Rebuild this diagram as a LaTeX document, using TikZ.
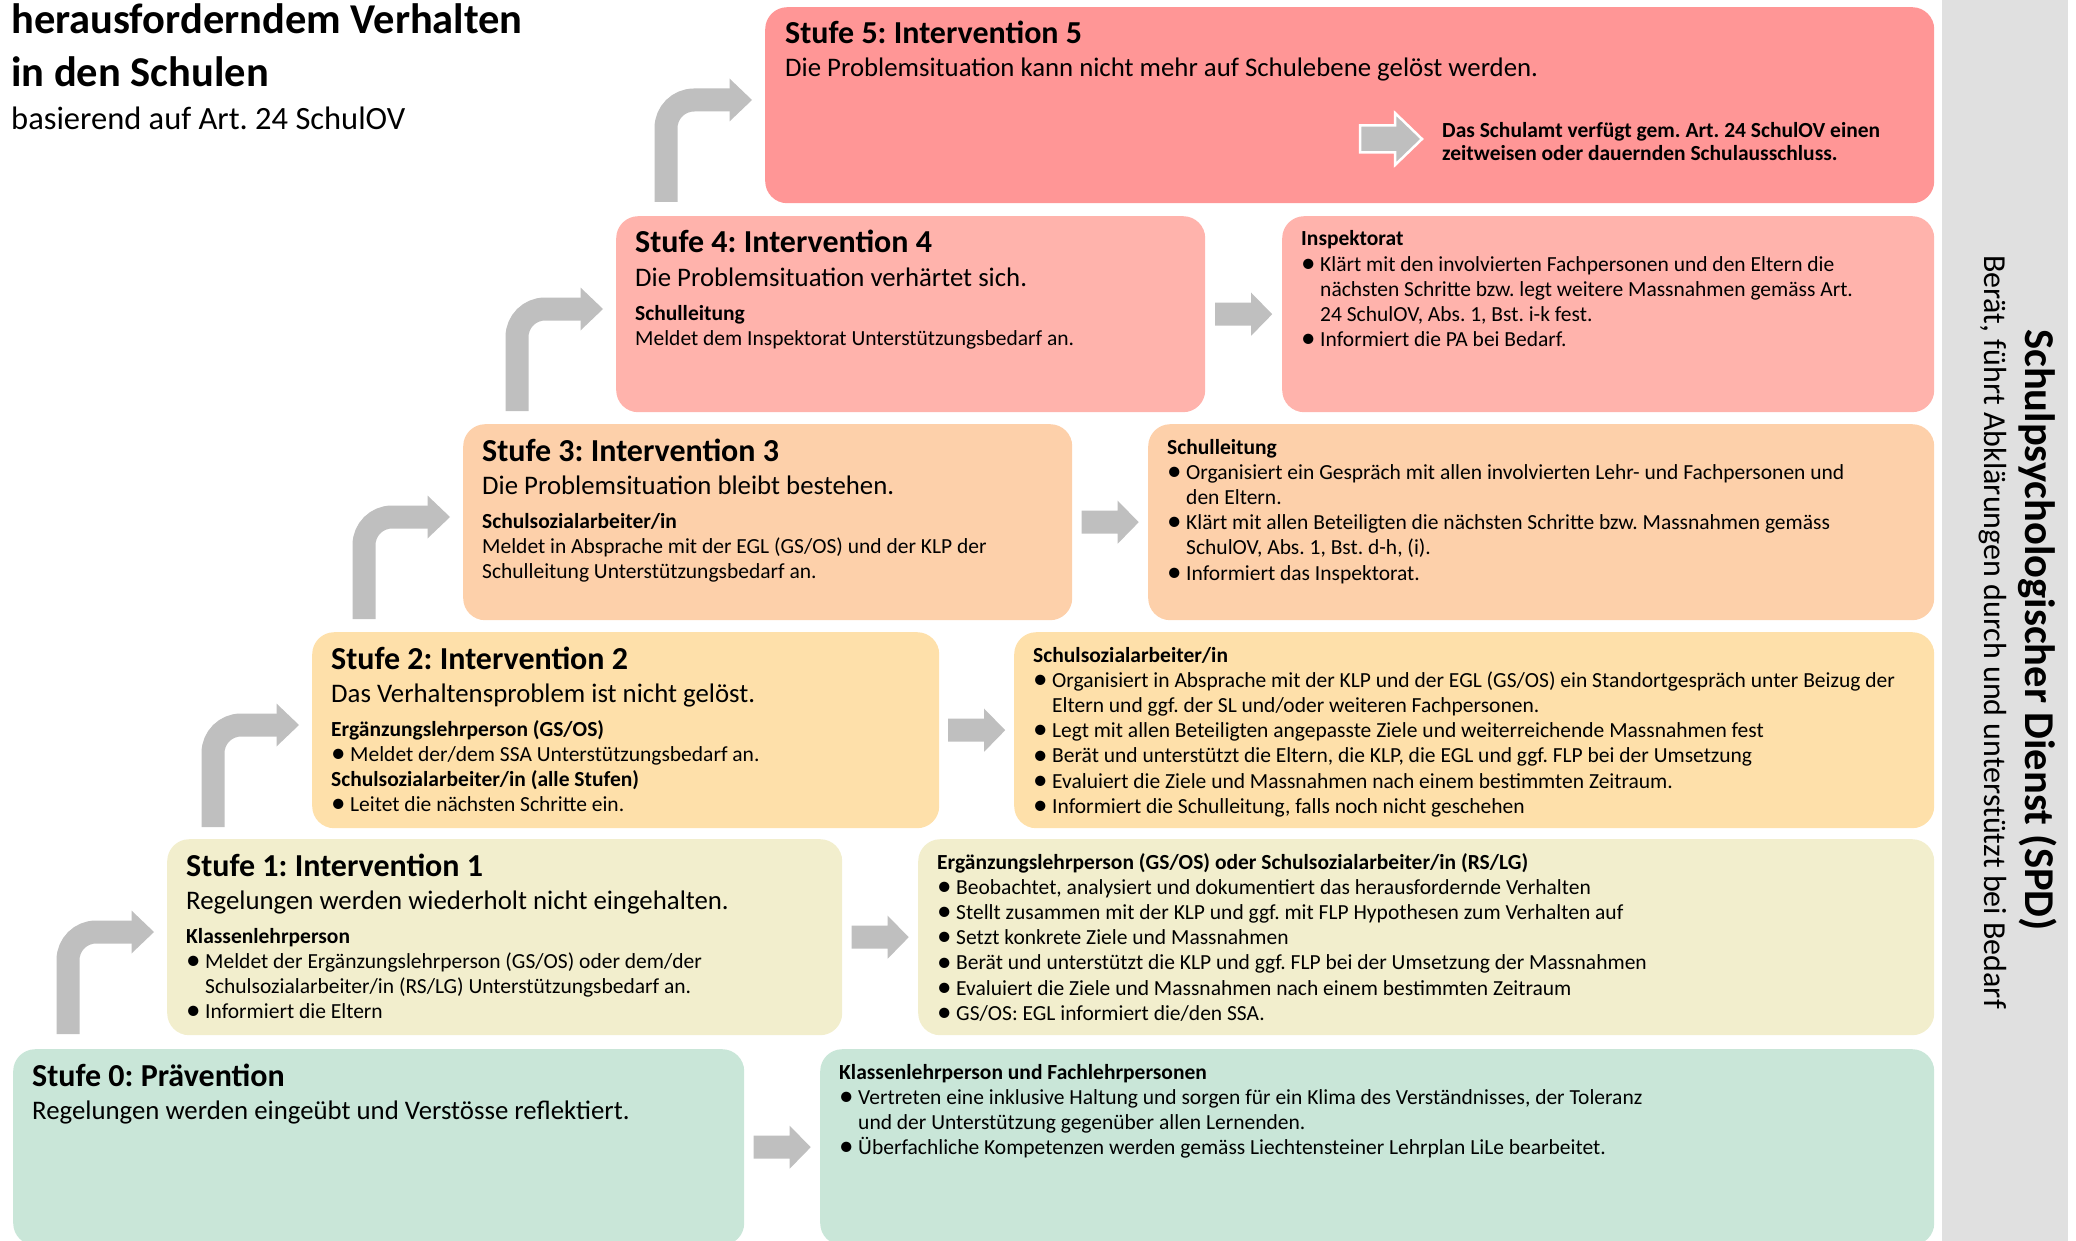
\documentclass[tikz,border=0pt]{standalone}
\usepackage{fontspec}
\setmainfont{Carlito}
\usetikzlibrary{calc}
\frenchspacing
\definecolor{cfive}{HTML}{FF9696}
\definecolor{cfour}{HTML}{FFB3AC}
\definecolor{cthree}{HTML}{FDD0AA}
\definecolor{ctwo}{HTML}{FEE0AA}
\definecolor{cone}{HTML}{F2EECD}
\definecolor{czero}{HTML}{C9E6D8}
\definecolor{barcol}{HTML}{E0E0E0}
\definecolor{arrowgray}{HTML}{BFBFBF}
\newcommand\bl{\makebox[19pt][l]{\raisebox{-1.2pt}{\scalebox{1.35}{\textbullet}}}}
\newcommand\ind{\hspace*{19pt}}
\newcommand\bentarrow[2]{%
  \coordinate (#1t) at ($(#2.north west)+(-99,195)$);
  \coordinate (#1h) at ($(#2.north west)+(-35,93)$);
  \draw[bentline] (#1t) |- (#1h);
  \fill[arrowgray] ($(#1h)+(-0.5,-21.5)$) -- ($(#1h)+(22,0)$) -- ($(#1h)+(-0.5,21.5)$) -- cycle;
}
\newcommand\blockarrow[3]{%
  \coordinate (#1) at ($(#2.east)!0.5!(#3.west)$);
  \fill[arrowgray, shift={(#1)}] (-28.5,-11.5) -- (7.5,-11.5) -- (7.5,-21.5) -- (28.5,0) -- (7.5,21.5) -- (7.5,11.5) -- (-28.5,11.5) -- cycle;
}
\begin{document}
\begin{tikzpicture}[x=1pt,y=-1pt,
  box/.style={rounded corners=22pt, inner sep=0pt, anchor=north west, minimum height=196pt},
  bentline/.style={draw=arrowgray, line width=23pt, rounded corners=28pt},
  txt/.style={anchor=base west, inner sep=0pt},
  hd/.style={txt, font=\bfseries\fontsize{32}{38}\selectfont},
  sub/.style={txt, font=\fontsize{26.8}{32}\selectfont},
  sm/.style={txt, font=\fontsize{21.5}{25.2}\selectfont},
  smb/.style={txt, font=\bfseries\fontsize{21.5}{23}\selectfont}]
\useasboundingbox (0,0) rectangle (2076,1241);
\clip (0,0) rectangle (2076,1241);

% side bar
\node[fill=barcol, anchor=north west, inner sep=0pt, minimum width=126pt, minimum height=1243pt] (spd) at (1942,-1) {};
\node[rotate=-90, font=\bfseries\fontsize{42.5}{50}\selectfont] (spdt) at (2038,630) {Schulpsychologischer Dienst (SPD)};
\node[rotate=-90, font=\fontsize{32}{38}\selectfont] (spds) at (1993,632) {Berät, führt Abklärungen durch und unterstützt bei Bedarf};

% title
\node[txt, font=\bfseries\fontsize{42.5}{53}\selectfont] (title) at (11,34) {\begin{tabular}[t]{@{}l@{}}herausforderndem Verhalten\\in den Schulen\end{tabular}};
\node[txt, font=\fontsize{32.5}{38}\selectfont] (subt) at (11,130) {basierend auf Art. 24 SchulOV};

% boxes
\node[box, fill=cfive, minimum width=1169pt] (s5) at (765,7) {};
\node[box, fill=cfour, minimum width=589pt] (s4l) at (616,216) {};
\node[box, fill=cfour, minimum width=652pt] (s4r) at (1282,216) {};
\node[box, fill=cthree, minimum width=609pt] (s3l) at (463,424) {};
\node[box, fill=cthree, minimum width=786pt] (s3r) at (1148,424) {};
\node[box, fill=ctwo, minimum width=627pt] (s2l) at (312,632) {};
\node[box, fill=ctwo, minimum width=920pt] (s2r) at (1014,632) {};
\node[box, fill=cone, minimum width=675pt] (s1l) at (167,839) {};
\node[box, fill=cone, minimum width=1016pt] (s1r) at (918,839) {};
\node[box, fill=czero, minimum width=731pt] (s0l) at (13,1049) {};
\node[box, fill=czero, minimum width=1114pt] (s0r) at (820,1049) {};

% bent arrows
\bentarrow{aone}{s1l}
\bentarrow{atwo}{s2l}
\bentarrow{athree}{s3l}
\bentarrow{afour}{s4l}
\bentarrow{afive}{s5}

% block arrows
\blockarrow{bfour}{s4l}{s4r}
\blockarrow{bthree}{s3l}{s3r}
\blockarrow{btwo}{s2l}{s2r}
\blockarrow{bone}{s1l}{s1r}
\blockarrow{bzero}{s0l}{s0r}

% Stufe 5
\node[hd] (t5h) at ($(s5.north west)+(20,37)$) {Stufe 5: Intervention 5};
\node[sub] (t5s) at ($(s5.north west)+(20,70)$) {Die Problemsituation kann nicht mehr auf Schulebene gelöst werden.};
\node[smb] (t5r) at (1442,138) {\begin{tabular}[t]{@{}l@{}}Das Schulamt verfügt gem. Art. 24 SchulOV einen\\zeitweisen oder dauernden Schulausschluss.\end{tabular}};
\coordinate (bfive) at ($(t5r.base west)+(-51,1)$);
\filldraw[fill=arrowgray, draw=white, line width=2.5pt, shift={(bfive)}] (-31,-13.5) -- (4,-13.5) -- (4,-26) -- (31,0) -- (4,26) -- (4,13.5) -- (-31,13.5) -- cycle;

% Stufe 4
\node[hd] (t4h) at ($(s4l.north west)+(19,37)$) {Stufe 4: Intervention 4};
\node[sub] (t4s) at ($(s4l.north west)+(19,70)$) {Die Problemsituation verhärtet sich.};
\node[sm] (t4b) at ($(s4l.north west)+(19,104)$) {\begin{tabular}[t]{@{}l@{}}\textbf{Schulleitung}\\Meldet dem Inspektorat Unterstützungsbedarf an.\end{tabular}};
\node[sm] (t4r) at ($(s4r.north west)+(19,30)$) {\begin{tabular}[t]{@{}l@{}}\textbf{Inspektorat}\\
\bl Klärt mit den involvierten Fachpersonen und den Eltern die\\
\ind nächsten Schritte bzw. legt weitere Massnahmen gemäss Art.\\
\ind 24 SchulOV, Abs. 1, Bst. i-k fest.\\
\bl Informiert die PA bei Bedarf.\end{tabular}};

% Stufe 3
\node[hd] (t3h) at ($(s3l.north west)+(19,37)$) {Stufe 3: Intervention 3};
\node[sub] (t3s) at ($(s3l.north west)+(19,70)$) {Die Problemsituation bleibt bestehen.};
\node[sm] (t3b) at ($(s3l.north west)+(19,104)$) {\begin{tabular}[t]{@{}l@{}}\textbf{Schulsozialarbeiter/in}\\Meldet in Absprache mit der EGL (GS/OS) und der KLP der\\Schulleitung Unterstützungsbedarf an.\end{tabular}};
\node[sm] (t3r) at ($(s3r.north west)+(19,30)$) {\begin{tabular}[t]{@{}l@{}}\textbf{Schulleitung}\\
\bl Organisiert ein Gespräch mit allen involvierten Lehr- und Fachpersonen und\\
\ind den Eltern.\\
\bl Klärt mit allen Beteiligten die nächsten Schritte bzw. Massnahmen gemäss\\
\ind SchulOV, Abs. 1, Bst. d-h, (i).\\
\bl Informiert das Inspektorat.\end{tabular}};

% Stufe 2
\node[hd] (t2h) at ($(s2l.north west)+(19,37)$) {Stufe 2: Intervention 2};
\node[sub] (t2s) at ($(s2l.north west)+(19,70)$) {Das Verhaltensproblem ist nicht gelöst.};
\node[sm] (t2b) at ($(s2l.north west)+(19,104)$) {\begin{tabular}[t]{@{}l@{}}\textbf{Ergänzungslehrperson (GS/OS)}\\
\bl Meldet der/dem SSA Unterstützungsbedarf an.\\
\textbf{Schulsozialarbeiter/in (alle Stufen)}\\
\bl Leitet die nächsten Schritte ein.\end{tabular}};
\node[sm] (t2r) at ($(s2r.north west)+(19,30)$) {\begin{tabular}[t]{@{}l@{}}\textbf{Schulsozialarbeiter/in}\\
\bl Organisiert in Absprache mit der KLP und der EGL (GS/OS) ein Standortgespräch unter Beizug der\\
\ind Eltern und ggf. der SL und/oder weiteren Fachpersonen.\\
\bl Legt mit allen Beteiligten angepasste Ziele und weiterreichende Massnahmen fest\\
\bl Berät und unterstützt die Eltern, die KLP, die EGL und ggf. FLP bei der Umsetzung\\
\bl Evaluiert die Ziele und Massnahmen nach einem bestimmten Zeitraum.\\
\bl Informiert die Schulleitung, falls noch nicht geschehen\end{tabular}};

% Stufe 1
\node[hd] (t1h) at ($(s1l.north west)+(19,37)$) {Stufe 1: Intervention 1};
\node[sub] (t1s) at ($(s1l.north west)+(19,70)$) {Regelungen werden wiederholt nicht eingehalten.};
\node[sm] (t1b) at ($(s1l.north west)+(19,104)$) {\begin{tabular}[t]{@{}l@{}}\textbf{Klassenlehrperson}\\
\bl Meldet der Ergänzungslehrperson (GS/OS) oder dem/der\\
\ind Schulsozialarbeiter/in (RS/LG) Unterstützungsbedarf an.\\
\bl Informiert die Eltern\end{tabular}};
\node[sm] (t1r) at ($(s1r.north west)+(19,30)$) {\begin{tabular}[t]{@{}l@{}}\textbf{Ergänzungslehrperson (GS/OS) oder Schulsozialarbeiter/in (RS/LG)}\\
\bl Beobachtet, analysiert und dokumentiert das herausfordernde Verhalten\\
\bl Stellt zusammen mit der KLP und ggf. mit FLP Hypothesen zum Verhalten auf\\
\bl Setzt konkrete Ziele und Massnahmen\\
\bl Berät und unterstützt die KLP und ggf. FLP bei der Umsetzung der Massnahmen\\
\bl Evaluiert die Ziele und Massnahmen nach einem bestimmten Zeitraum\\
\bl GS/OS: EGL informiert die/den SSA.\end{tabular}};

% Stufe 0
\node[hd] (t0h) at ($(s0l.north west)+(19,37)$) {Stufe 0: Prävention};
\node[sub] (t0s) at ($(s0l.north west)+(19,70)$) {Regelungen werden eingeübt und Verstösse reflektiert.};
\node[sm] (t0r) at ($(s0r.north west)+(19,30)$) {\begin{tabular}[t]{@{}l@{}}\textbf{Klassenlehrperson und Fachlehrpersonen}\\
\bl Vertreten eine inklusive Haltung und sorgen für ein Klima des Verständnisses, der Toleranz\\
\ind und der Unterstützung gegenüber allen Lernenden.\\
\bl Überfachliche Kompetenzen werden gemäss Liechtensteiner Lehrplan LiLe bearbeitet.\end{tabular}};
\end{tikzpicture}
\end{document}
